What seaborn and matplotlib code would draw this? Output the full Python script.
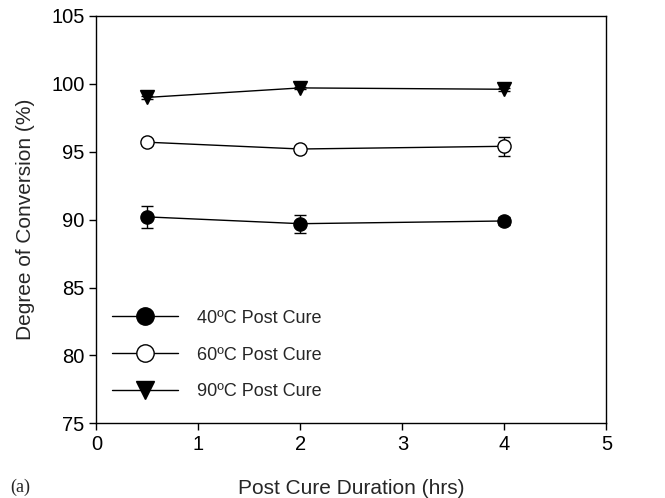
import numpy as np
import pandas as pd
import seaborn as sns
import matplotlib.pyplot as plt
from matplotlib.lines import Line2D

duration = [0.5, 2, 4]
series = ['40ºC Post Cure', '60ºC Post Cure', '90ºC Post Cure']
conv_40 = [90.2, 89.7, 89.9]
err_40 = [0.8, 0.65, 0.3]
conv_60 = [95.7, 95.2, 95.4]
err_60 = [0.2, 0.15, 0.7]
conv_90 = [99.0, 99.7, 99.6]
err_90 = [0.1, 0.1, 0.1]

rows = []
for name, vals, errs in zip(series, [conv_40, conv_60, conv_90], [err_40, err_60, err_90]):
    for d, v, e in zip(duration, vals, errs):
        rows.append({'duration': d, 'conversion': v, 'err': e, 'series': name})
df = pd.DataFrame(rows)

sns.set_style('ticks')
plt.rcParams['font.family'] = ['Liberation Sans', 'DejaVu Sans']

fig, ax = plt.subplots(figsize=(6.65, 4.98), dpi=100)
fig.subplots_adjust(left=0.145, right=0.912, top=0.968, bottom=0.15)

styles = {
    '40ºC Post Cure': dict(marker='o', mfc='black'),
    '60ºC Post Cure': dict(marker='o', mfc='white'),
    '90ºC Post Cure': dict(marker='v', mfc='black'),
}

handles = []
for name in series:
    sub = df[df['series'] == name]
    st = styles[name]
    ax.errorbar(sub['duration'], sub['conversion'], yerr=sub['err'], fmt='none',
                ecolor='black', elinewidth=1, capsize=4, capthick=1, zorder=2)
    sns.lineplot(data=sub, x='duration', y='conversion', ax=ax, color='black',
                 linewidth=1, marker=st['marker'], markersize=9.5,
                 markerfacecolor=st['mfc'], markeredgecolor='black',
                 markeredgewidth=1, legend=False, zorder=3)
    handles.append(Line2D([], [], color='black', linewidth=1, marker=st['marker'],
                          markersize=12.5, markerfacecolor=st['mfc'],
                          markeredgecolor='black', label=name))

ax.set_xlim(0, 5)
ax.set_ylim(75, 105)
ax.set_xticks([0, 1, 2, 3, 4, 5])
ax.set_yticks([75, 80, 85, 90, 95, 100, 105])
ax.tick_params(direction='out', length=5, width=1, labelsize=14.5, colors='black')
for sp in ax.spines.values():
    sp.set_linewidth(1)
    sp.set_color('black')

ax.set_xlabel('Post Cure Duration (hrs)', fontsize=15, labelpad=18)
ax.set_ylabel('Degree of Conversion (%)', fontsize=15, labelpad=12)

ax.legend(handles=handles, loc='lower left', bbox_to_anchor=(0.031, 0.056),
          frameon=False, fontsize=13, handlelength=3.65, labelspacing=1.1,
          handletextpad=1.05, borderaxespad=0, borderpad=0)

fig.text(0.015, 0.012, '(a)', family='Liberation Serif', fontsize=13)

fig.savefig('out.png', dpi=100)
